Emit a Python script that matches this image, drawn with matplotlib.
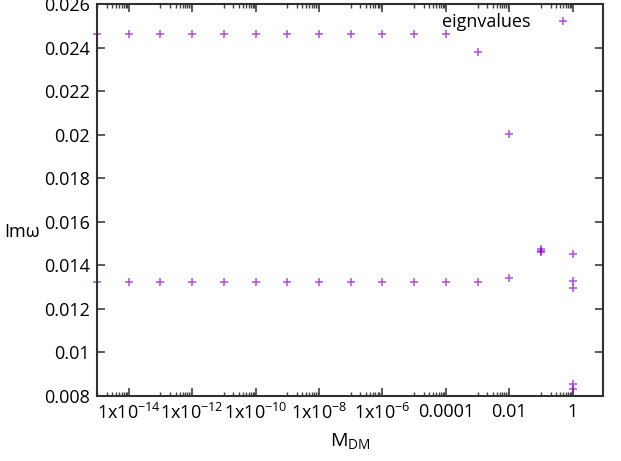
import matplotlib
matplotlib.use('Agg')
import matplotlib.pyplot as plt
from matplotlib.ticker import FixedLocator, NullFormatter
import numpy as np

plt.rcParams['font.family'] = ['Open Sans', 'DejaVu Sans']
plt.rcParams['mathtext.default'] = 'regular'
plt.rcParams['font.size'] = 13

# dark matter mass and imaginary part of the eigenvalues
m_dm = [1e-15, 1e-14, 1e-13, 1e-12, 1e-11, 1e-10, 1e-9, 1e-8,
        1e-7, 1e-6, 1e-5, 1e-4, 1e-3, 1e-2, 1e-1, 1e-1, 1e-1,
        1, 1, 1, 1, 1]
im_upper = [0.02462, 0.02462, 0.02462, 0.02462, 0.02462, 0.02462, 0.02462, 0.02462,
            0.02462, 0.02462, 0.02462, 0.02462, 0.02381, 0.02002, 0.01475, 0.01467, 0.01460,
            0.01450, 0.01330, 0.01294, 0.00853, 0.00831]
m_low = [1e-15, 1e-14, 1e-13, 1e-12, 1e-11, 1e-10, 1e-9, 1e-8,
         1e-7, 1e-6, 1e-5, 1e-4, 1e-3, 1e-2]
im_lower = [0.01324, 0.01324, 0.01324, 0.01324, 0.01324, 0.01324, 0.01324, 0.01324,
            0.01324, 0.01324, 0.01324, 0.01325, 0.01325, 0.01340]

x_ticks = [1e-14, 1e-12, 1e-10, 1e-8, 1e-6, 1e-4, 1e-2, 1]
x_labels = [r'1x10$^{-14}$', r'1x10$^{-12}$', r'1x10$^{-10}$', r'1x10$^{-8}$',
            r'1x10$^{-6}$', '0.0001', '0.01', '1']
y_ticks = [0.008, 0.01, 0.012, 0.014, 0.016, 0.018, 0.02, 0.022, 0.024, 0.026]
y_labels = ['0.008', '0.01', '0.012', '0.014', '0.016', '0.018', '0.02', '0.022', '0.024', '0.026']

color = '#9400D3'

fig = plt.figure(figsize=(6.21, 4.61), dpi=100)
ax = fig.add_axes([97 / 621, 1 - 396 / 461, (603 - 97) / 621, (396 - 4) / 461])

x_all = m_dm + m_low
y_all = im_upper + im_lower
ax.plot(x_all, y_all, linestyle='none', marker='+', markersize=5.5,
        markeredgewidth=1.1, color=color, alpha=0.7, label='eignvalues',
        clip_on=False)

ax.set_xscale('log')
ax.set_xlim(1e-15, 9)
ax.set_ylim(0.008, 0.026)

ax.set_xticks(x_ticks)
ax.set_xticklabels(x_labels)
minor = [m * 10.0 ** e for e in range(-15, 0, 2) for m in range(1, 10)]
ax.xaxis.set_minor_locator(FixedLocator(minor))
ax.xaxis.set_minor_formatter(NullFormatter())
ax.set_yticks(y_ticks)
ax.set_yticklabels(y_labels)

ax.tick_params(which='major', direction='in', length=6, width=1.2,
               top=True, right=True, color='#404040', pad=5)
ax.tick_params(which='minor', direction='in', length=3, width=1.0,
               top=True, right=True, color='#404040')
for s in ax.spines.values():
    s.set_linewidth(1.5)
    s.set_color('#303030')

ax.set_xlabel(r'M$_{DM}$', labelpad=6, fontsize=14)
ax.set_ylabel('Imω', rotation=0, ha='center', va='center')
ax.yaxis.set_label_coords(-0.148, 0.418)

ax.legend(loc='upper right', bbox_to_anchor=(0.956, 0.995), frameon=False,
          markerfirst=False, handlelength=1.2, handletextpad=1.2,
          borderaxespad=0.0, fontsize=13)

fig.savefig('out.png', dpi=100)
